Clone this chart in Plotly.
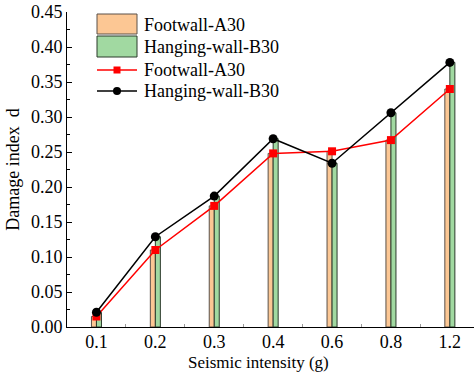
import plotly.graph_objects as go

categories = ["0.1", "0.2", "0.3", "0.4", "0.6", "0.8", "1.2"]
footwall = [0.015, 0.110, 0.173, 0.248, 0.251, 0.267, 0.340]
hanging = [0.021, 0.129, 0.187, 0.269, 0.234, 0.306, 0.378]
yticks = [0.00, 0.05, 0.10, 0.15, 0.20, 0.25, 0.30, 0.35, 0.40, 0.45]
legend_labels = ["Footwall-A30", "Hanging-wall-B30", "Footwall-A30", "Hanging-wall-B30"]

FONT = "Liberation Serif, Times New Roman, serif"
ORANGE, ORANGE_EDGE = "#FCC794", "#5a5048"
GREEN, GREEN_EDGE = "#A1D9A1", "#2b3a2b"
bw = 0.085

W, H = 474, 372
ML, MT, MB = 67, 12, 45
PW, PH = W - ML, H - MT - MB


def px(x):
    return (x - ML) / PW


def py(y):
    return (MT + PH - y) / PH


fig = go.Figure()
fig.add_trace(go.Bar(
    x=categories, y=footwall, name=legend_labels[0], showlegend=False,
    width=bw, offset=-bw,
    marker=dict(color=ORANGE, line=dict(color=ORANGE_EDGE, width=1)),
))
fig.add_trace(go.Bar(
    x=categories, y=hanging, name=legend_labels[1], showlegend=False,
    width=bw, offset=0,
    marker=dict(color=GREEN, line=dict(color=GREEN_EDGE, width=1)),
))
fig.add_trace(go.Scatter(
    x=categories, y=footwall, name=legend_labels[2], mode="lines+markers", showlegend=False,
    line=dict(color="#FF0000", width=1.5),
    marker=dict(symbol="square", size=8, color="#FF0000"),
))
fig.add_trace(go.Scatter(
    x=categories, y=hanging, name=legend_labels[3], mode="lines+markers", showlegend=False,
    line=dict(color="#000000", width=1.5),
    marker=dict(symbol="circle", size=9, color="#000000"),
))

# custom legend (large swatches like the original)
shapes = []
annotations = []
sx0, sx1, smid = px(97), px(137), px(117)
shapes.append(dict(type="rect", xref="paper", yref="paper", x0=sx0, x1=sx1, y0=py(34), y1=py(14),
                   fillcolor=ORANGE, line=dict(color=ORANGE_EDGE, width=1)))
shapes.append(dict(type="rect", xref="paper", yref="paper", x0=sx0, x1=sx1, y0=py(57), y1=py(36),
                   fillcolor=GREEN, line=dict(color=GREEN_EDGE, width=1)))
for yy, col, kind, half in [(70, "#FF0000", "rect", 3.5), (91, "#000000", "circle", 4)]:
    shapes.append(dict(type="line", xref="paper", yref="paper", x0=sx0, x1=sx1, y0=py(yy), y1=py(yy),
                       line=dict(color=col, width=1.5)))
    shapes.append(dict(type=kind, xref="paper", yref="paper", xsizemode="pixel", ysizemode="pixel",
                       xanchor=smid, yanchor=py(yy), x0=-half, x1=half, y0=-half, y1=half,
                       fillcolor=col, line=dict(color=col, width=0)))
for lab, yy in zip(legend_labels, [25, 47, 70, 91]):
    annotations.append(dict(text=lab, xref="paper", yref="paper", x=px(142), y=py(yy),
                            xanchor="left", yanchor="middle", showarrow=False,
                            font=dict(family=FONT, size=18, color="black")))

# x-axis title placed like the original (just below the tick labels)
annotations.append(dict(text="Seismic intensity (g)", xref="paper", yref="paper",
                        x=px(258), y=py(362), xanchor="center", yanchor="middle", showarrow=False,
                        font=dict(family=FONT, size=17, color="black")))

fig.update_layout(
    width=W, height=H,
    margin=dict(l=ML, r=0, t=MT, b=MB),
    paper_bgcolor="white", plot_bgcolor="white",
    font=dict(family=FONT, size=18, color="black"),
    showlegend=False,
    shapes=shapes,
    annotations=annotations,
    xaxis=dict(
        type="category", range=[-0.5, 6.41],
        showline=True, linecolor="black", linewidth=1,
        ticks="inside", ticklen=3, tickcolor="#999", tickson="boundaries",
        ticklabelstandoff=-2,
        showgrid=False, zeroline=False,
        tickfont=dict(size=18),
    ),
    yaxis=dict(
        range=[0, 0.45], tickvals=yticks,
        ticktext=[f"{v:.2f}" for v in yticks],
        showline=True, linecolor="black", linewidth=1,
        ticks="inside", ticklen=5, tickcolor="black",
        minor=dict(ticks="inside", ticklen=3, dtick=0.025, tickcolor="black"),
        showgrid=False, zeroline=False,
        title=dict(text="Damage index  d", standoff=6, font=dict(size=18)),
        tickfont=dict(size=18),
    ),
)

fig.write_html("out.html")
